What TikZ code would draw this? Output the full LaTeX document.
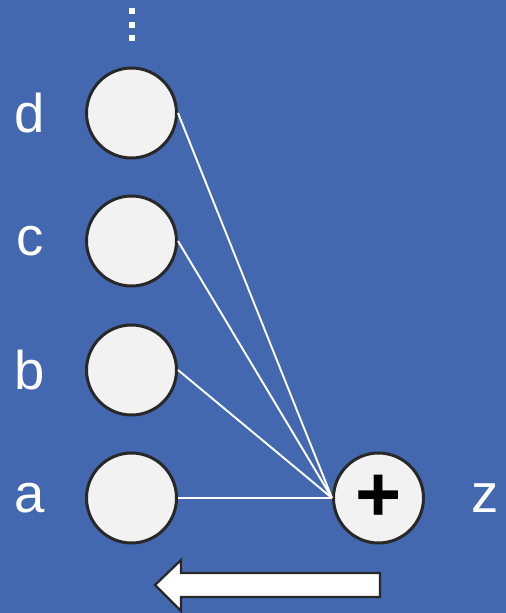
\documentclass[tikz,border=0pt]{standalone}
\usepackage{fontspec}
\setmainfont{Liberation Sans}
\usetikzlibrary{positioning}
\definecolor{fondo}{RGB}{67,104,176}
\definecolor{relleno}{RGB}{242,242,242}
\definecolor{borde}{RGB}{40,40,40}
\tikzset{
  neurona/.style={circle, draw=borde, fill=relleno, line width=1.7pt, minimum size=1.8cm, inner sep=0pt},
  etiqueta/.style={text=white, font=\fontsize{31}{31}\selectfont},
  enlace/.style={white, line width=1.1pt}
}

\begin{document}
\begin{tikzpicture}[x=0.02cm, y=-0.02cm]
  \fill[fondo] (0,0) rectangle (506,613);
  \useasboundingbox (0,0) rectangle (506,613);
  % puntos suspensivos
  \foreach \y in {11,25,38} \fill[white] (129,\y-3) rectangle (135,\y+3);
  % entradas
  \foreach \n/\y in {a/498,b/370,c/241,d/113} {
    \node[neurona] (\n) at (131.5,\y) {};
    \node[etiqueta] (lab\n) at (30,\y) {\n};
  }
  \node[neurona] (suma) at (378.5,498) {\fontsize{45}{45}\selectfont\bfseries +};
  \node[etiqueta] (labz) at (485,498) {z};
  \foreach \n in {a,b,c,d} \draw[enlace] (\n.east) -- (suma.west);
  % flecha
  \draw[borde, fill=white, line width=1.3pt, line join=miter]
    (380,573) -- (181,573) -- (181,560) -- (155,585) -- (181,611) -- (181,597) -- (380,597) -- cycle;
\end{tikzpicture}
\end{document}
